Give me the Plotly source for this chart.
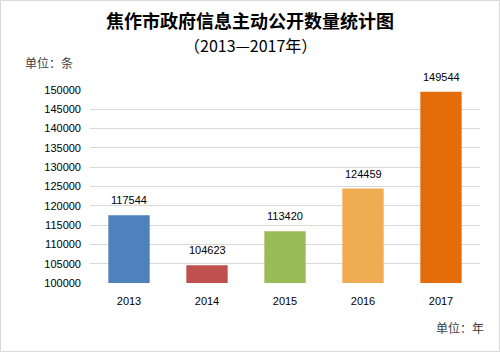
import plotly.graph_objects as go

years = ["2013", "2014", "2015", "2016", "2017"]
counts = [117544, 104623, 113420, 124459, 149544]
colors = ["#4F81BD", "#C0504D", "#9BBB59", "#F0AC52", "#E46C0A"]
tick_vals = list(range(100000, 150001, 5000))
tick_text = [str(v) for v in tick_vals]

W, H = 500, 352
L, R, T, B = 90, 20, 90, 69
pw, ph = W - L - R, H - T - B

def px(x):
    return (x - L) / pw

def py(y):
    return (H - y - B) / ph

fig = go.Figure(go.Bar(
    x=years, y=counts, marker=dict(color=colors, line=dict(width=0)),
    width=0.53, hoverinfo="x+y",
))

value_labels = [dict(x=i, y=v, xref="x", yref="y", text=str(v), showarrow=False,
                     yanchor="bottom", yshift=7,
                     font=dict(family="Liberation Sans, Arial", size=11, color="#000000"))
                for i, v in enumerate(counts)]

fig.update_layout(
    width=W, height=H, margin=dict(l=L, r=R, t=T, b=B),
    paper_bgcolor="white", plot_bgcolor="white", showlegend=False,
    xaxis=dict(type="category", showgrid=False, showline=False, ticks="", ticklabelstandoff=10,
               tickfont=dict(family="Liberation Sans, Arial", size=11, color="#000000")),
    yaxis=dict(range=[100000, 150000], tickvals=tick_vals, ticktext=tick_text, showgrid=True,
               gridcolor="#D9D9D9", gridwidth=1, zeroline=False, showline=False,
               ticks="", ticklabelstandoff=8,
               tickfont=dict(family="Liberation Sans, Arial", size=11, color="#000000")),
    shapes=[dict(type="rect", xref="paper", yref="paper",
                 x0=px(0.5), x1=px(499.5), y0=py(351.5), y1=py(0.5),
                 line=dict(color="#D9D9D9", width=1), fillcolor="rgba(0,0,0,0)", layer="below")],
    annotations=value_labels + [
        dict(text="<b>焦作市政府信息主动公开数量统计图</b>", xref="paper", yref="paper",
             x=px(250), y=py(20), xanchor="center", yanchor="middle", showarrow=False,
             font=dict(family="Noto Sans CJK SC", size=18, color="#000000")),
        dict(text="（2013—2017年）", xref="paper", yref="paper",
             x=px(250), y=py(45), xanchor="center", yanchor="middle", showarrow=False,
             font=dict(family="Noto Sans CJK SC", size=16, color="#000000")),
        dict(text="单位：条", xref="paper", yref="paper",
             x=px(23), y=py(63), xanchor="left", yanchor="middle", showarrow=False,
             font=dict(family="Noto Sans CJK SC", size=12, color="#404040")),
        dict(text="单位：年", xref="paper", yref="paper",
             x=px(486), y=py(327), xanchor="right", yanchor="middle", showarrow=False,
             font=dict(family="Noto Sans CJK SC", size=12, color="#404040")),
    ],
)

fig.write_html("out.html")
